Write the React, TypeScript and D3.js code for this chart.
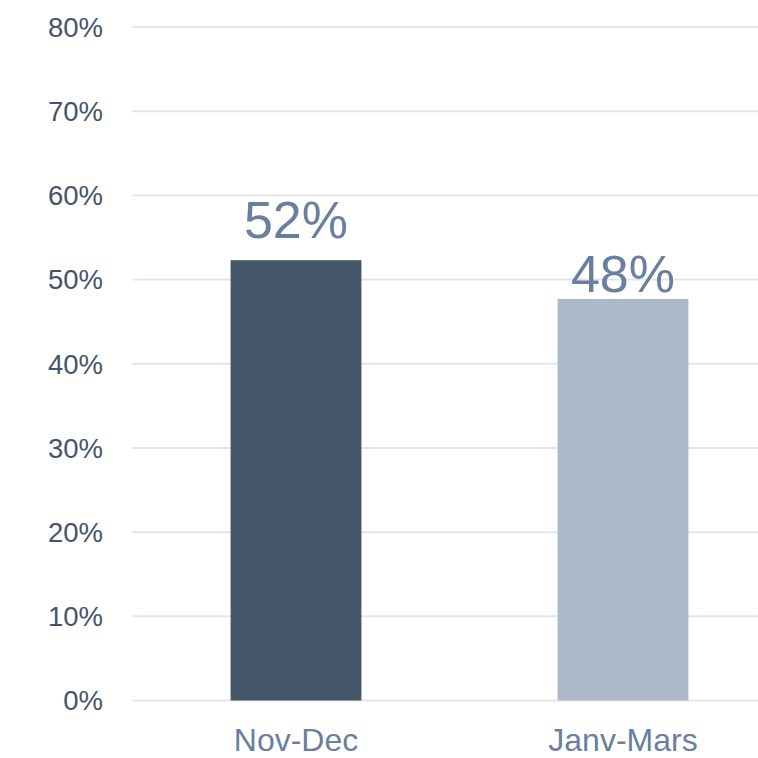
import React from "react";
import * as d3 from "d3";

const categories = ["Nov-Dec", "Janv-Mars"];
const values = [52.3, 47.7];
const valueLabels = ["52%", "48%"];
const yTicks = [0, 10, 20, 30, 40, 50, 60, 70, 80];
const barColors = ["#465669", "#adb9c9"];

const W = 758;
const H = 758;

export default function App() {
  const x = d3.scaleBand<string>().domain(categories).range([132.5, 786.5]).paddingInner(0.6).paddingOuter(0.3);
  const y = d3.scaleLinear().domain([0, 80]).range([700.5, 27]);
  const labelOffsets = [22, 7];
  const font = "'Liberation Sans', Arial, Helvetica, sans-serif";
  return (
    <svg width={W} height={H} style={{ position: "absolute", left: 0, top: 0, background: "#fff" }} fontFamily={font}>
      {yTicks.map((t) => (
        <g key={t}>
          <line x1={132.5} x2={W} y1={y(t)} y2={y(t)} stroke="#e2e6ec" strokeWidth={2} />
          <text x={103} y={y(t)} dy="0.36em" textAnchor="end" fontSize={27.5} fill="#44546a">
            {t}%
          </text>
        </g>
      ))}
      {categories.map((c, i) => (
        <g key={c}>
          <rect x={x(c)} y={y(values[i])} width={x.bandwidth()} height={y(0) - y(values[i])} fill={barColors[i]} />
          <text
            x={(x(c) as number) + x.bandwidth() / 2}
            y={y(values[i]) - labelOffsets[i]}
            textAnchor="middle"
            fontSize={52}
            fill="#6a7f9f"
          >
            {valueLabels[i]}
          </text>
          <text x={(x(c) as number) + x.bandwidth() / 2} y={750.5} textAnchor="middle" fontSize={32} fill="#6a7f9f">
            {c}
          </text>
        </g>
      ))}
    </svg>
  );
}
